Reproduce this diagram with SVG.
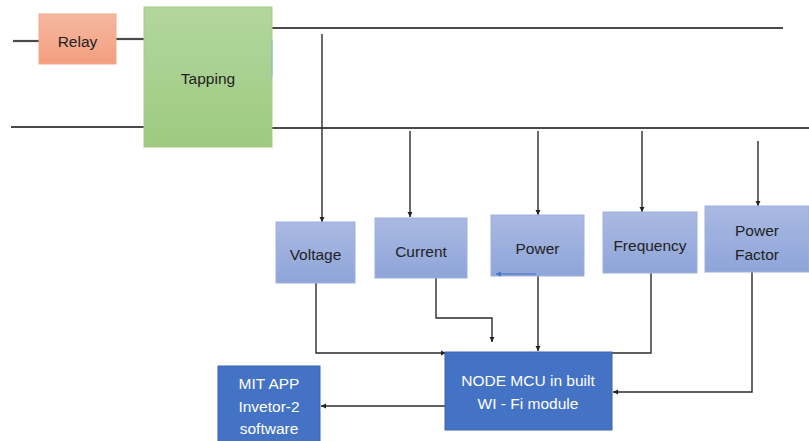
<svg xmlns="http://www.w3.org/2000/svg" width="809" height="441" viewBox="0 0 809 441">
<defs>
<linearGradient id="gRelay" x1="0" y1="0" x2="0" y2="1"><stop offset="0" stop-color="#F6B8A0"/><stop offset="1" stop-color="#F29E7E"/></linearGradient>
<linearGradient id="gTap" x1="0" y1="0" x2="0" y2="1"><stop offset="0" stop-color="#B3D69E"/><stop offset="1" stop-color="#9DCA80"/></linearGradient>
<linearGradient id="gPar" x1="0" y1="0" x2="0" y2="1"><stop offset="0" stop-color="#AAB9E2"/><stop offset="1" stop-color="#8EA5D9"/></linearGradient>
<marker id="ah" markerWidth="6" markerHeight="6" refX="5" refY="3" orient="auto" markerUnits="userSpaceOnUse"><path d="M0,0.5 L5,3 L0,5.5 Z" fill="#222"/></marker>
<marker id="ahb" markerWidth="6" markerHeight="6" refX="5" refY="3" orient="auto" markerUnits="userSpaceOnUse"><path d="M0,0.5 L5,3 L0,5.5 Z" fill="#4472C4"/></marker>
<style>
.bus{stroke:#4a4a4a;stroke-width:2.2;fill:none}
.con{stroke:#2b2b2b;stroke-width:1.4;fill:none}
.t{font-family:"Liberation Sans",Arial,sans-serif;font-size:15.5px;text-anchor:middle;fill:#222222}
.w{font-family:"Liberation Sans",Arial,sans-serif;font-size:15.5px;text-anchor:middle;fill:#ffffff}
.par{fill:url(#gPar);stroke:#9DB0DD;stroke-width:1}
.dark{fill:#4472C4;stroke:#3A64B0;stroke-width:1}
</style>
</defs>
<rect width="809" height="441" fill="#ffffff"/>
<g id="connectors">
<line class="bus" x1="13" y1="41" x2="39" y2="41"/>
<line class="bus" x1="116" y1="39" x2="144" y2="39"/>
<line class="bus" x1="11" y1="127" x2="144" y2="127"/>
<line class="bus" x1="272" y1="28" x2="783" y2="28"/>
<line class="bus" x1="272" y1="128" x2="809" y2="128"/>
<line class="con" x1="322" y1="34" x2="322" y2="222" marker-end="url(#ah)"/>
<line class="con" x1="410" y1="131" x2="410" y2="217" marker-end="url(#ah)"/>
<line class="con" x1="538" y1="131" x2="538" y2="215" marker-end="url(#ah)"/>
<line class="con" x1="642" y1="131" x2="642" y2="212" marker-end="url(#ah)"/>
<line class="con" x1="758" y1="141" x2="758" y2="206" marker-end="url(#ah)"/>
<polyline class="con" points="316,283 316,353 446,353" marker-end="url(#ah)"/>
<polyline class="con" points="436,278 436,318 492,318 492,342" marker-end="url(#ah)"/>
<line class="con" x1="538" y1="276" x2="538" y2="351" marker-end="url(#ah)"/>
<polyline class="con" points="651,273 651,353 612,353"/>
<polyline class="con" points="752,272 752,392 613,392" marker-end="url(#ah)"/>
<line class="con" x1="445" y1="406" x2="321" y2="406" marker-end="url(#ah)"/>
</g>
<g id="relay">
<rect x="39" y="14" width="77" height="50" fill="url(#gRelay)" stroke="#F3A889" stroke-width="1"/>
<text class="t" x="77.5" y="47">Relay</text>
</g>
<g id="tapping">
<rect x="144" y="7" width="128" height="140" fill="url(#gTap)" stroke="#A4CD8A" stroke-width="1"/>
<line x1="272" y1="40" x2="272" y2="76" stroke="#8FB6D8" stroke-width="1"/>
<text class="t" x="208" y="84">Tapping</text>
</g>
<g id="voltage">
<rect class="par" x="276" y="222" width="79" height="61"/>
<text class="t" x="315.5" y="260">Voltage</text>
</g>
<g id="current">
<rect class="par" x="375" y="218" width="92" height="60"/>
<text class="t" x="421" y="257">Current</text>
</g>
<g id="power">
<rect class="par" x="491" y="215" width="93" height="61"/>
<line x1="536" y1="274" x2="496" y2="274" stroke="#4472C4" stroke-width="1" marker-end="url(#ahb)"/>
<text class="t" x="537.5" y="254">Power</text>
</g>
<g id="frequency">
<rect class="par" x="603" y="212" width="94" height="61"/>
<text class="t" x="650" y="251">Frequency</text>
</g>
<g id="powerfactor">
<rect class="par" x="705" y="206" width="104" height="66"/>
<text class="t" x="757" y="236">Power</text>
<text class="t" x="757" y="260">Factor</text>
</g>
<g id="nodemcu">
<rect class="dark" x="445" y="352" width="167" height="78"/>
<text class="w" x="528" y="386">NODE MCU in built</text>
<text class="w" x="528" y="409">WI - Fi module</text>
</g>
<g id="mitapp">
<rect class="dark" x="218" y="366" width="102" height="80"/>
<text class="w" x="269" y="389">MIT APP</text>
<text class="w" x="269" y="412">Invetor-2</text>
<text class="w" x="269" y="434">software</text>
</g>
</svg>
